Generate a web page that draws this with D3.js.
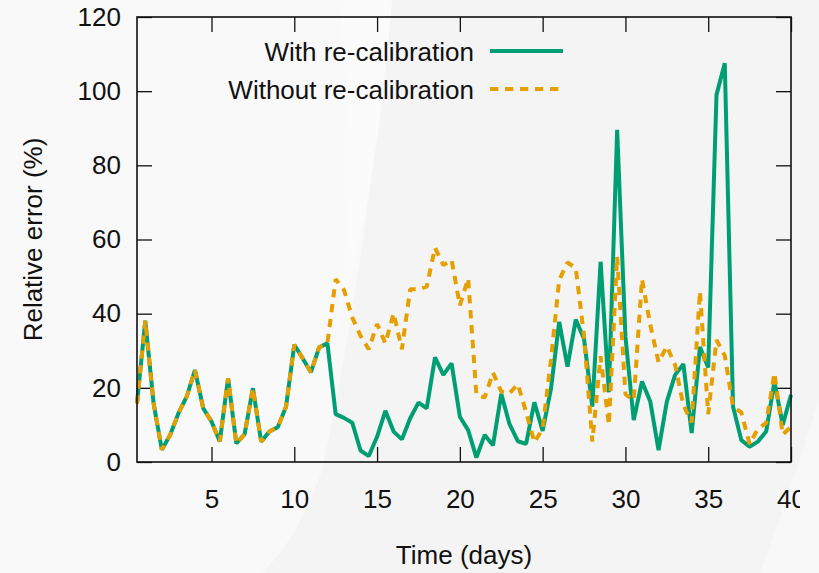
<!DOCTYPE html>
<html>
<head>
<meta charset="utf-8">
<script src="https://cdn.jsdelivr.net/npm/d3@7/dist/d3.min.js"></script>
<style>
  html, body { margin: 0; padding: 0; background: #f4f4f4; }
  svg { display: block; }
</style>
</head>
<body>
<svg id="chart" width="819" height="573"></svg>
<script>
// Sampling times (days) — one sample every half day
const days = [
  0.5, 1, 1.5, 2, 2.5, 3, 3.5, 4, 4.5, 5,
  5.5, 6, 6.5, 7, 7.5, 8, 8.5, 9, 9.5, 10,
  10.5, 11, 11.5, 12, 12.5, 13, 13.5, 14, 14.5, 15,
  15.5, 16, 16.5, 17, 17.5, 18, 18.5, 19, 19.5, 20,
  20.5, 21, 21.5, 22, 22.5, 23, 23.5, 24, 24.5, 25,
  25.5, 26, 26.5, 27, 27.5, 28, 28.5, 29, 29.5, 30,
  30.5, 31, 31.5, 32, 32.5, 33, 33.5, 34, 34.5, 35,
  35.5, 36, 36.5, 37, 37.5, 38, 38.5, 39, 39.5, 40
];

// Relative error (%) with periodic re-calibration
const withRecal = [
  15.8, 38.1, 15.9, 3.3, 7.3, 13.1, 17.6, 24.8, 14.5, 10.9,
  5.5, 22.6, 5.0, 7.5, 19.9, 5.5, 8.2, 9.4, 14.9, 31.6,
  28.0, 24.2, 30.9, 32.0, 12.9, 11.9, 10.6, 3.1, 1.6, 6.8,
  13.8, 8.2, 6.1, 11.8, 16.0, 14.5, 28.2, 23.5, 26.6, 12.2,
  8.6, 1.2, 7.3, 4.5, 18.4, 10.2, 5.6, 4.9, 16.1, 8.4,
  19.7, 37.8, 25.7, 38.4, 33.2, 14.9, 54.0, 18.8, 89.6, 33.8,
  11.3, 21.7, 16.3, 3.2, 16.3, 23.5, 26.4, 7.8, 31.0, 25.5,
  99.0, 107.5, 14.9, 5.9, 4.1, 5.5, 8.2, 21.7, 10.0, 18.1
];

// Relative error (%) without re-calibration
const withoutRecal = [
  15.8, 38.1, 15.9, 3.3, 7.3, 13.1, 17.6, 24.8, 14.5, 10.9,
  5.5, 22.6, 5.0, 7.5, 19.9, 5.5, 8.2, 9.4, 14.9, 31.6,
  28.0, 24.2, 30.9, 32.0, 49.3, 46.4, 39.0, 34.0, 30.4, 37.2,
  32.0, 40.1, 30.4, 46.6, 46.6, 47.3, 57.8, 53.1, 54.5, 42.2,
  49.5, 18.1, 17.4, 24.1, 19.0, 18.5, 21.0, 13.5, 5.3, 9.0,
  27.5, 49.1, 53.8, 52.3, 34.0, 5.5, 28.5, 10.0, 55.4, 18.3,
  16.7, 49.3, 37.0, 26.9, 31.2, 26.2, 15.3, 10.7, 46.0, 12.9,
  32.9, 28.7, 14.9, 13.4, 4.8, 9.0, 10.5, 24.0, 7.4, 9.5
];

const seriesNames = ["With re-calibration", "Without re-calibration"];
const xTicks = [5, 10, 15, 20, 25, 30, 35, 40];
const yTicks = [0, 20, 40, 60, 80, 100, 120];

const FONT = "'Liberation Sans', Arial, Helvetica, sans-serif";
const FS = "26px";
const GREEN = "#009e73", ORANGE = "#e69f00";

const svg = d3.select("#chart");
const W = 819, H = 573;

// Soft slide backdrop with a pale sweeping band
svg.append("rect").attr("width", W).attr("height", H).attr("fill", "#f4f4f4");
svg.append("path")
  .attr("d", "M0,0 L388,0 C378,160 352,330 322,470 C305,520 285,550 262,573 L0,573 Z")
  .attr("fill", "#f9f9f9");
svg.append("path")
  .attr("d", "M340,0 L392,0 C380,150 360,260 335,330 C352,240 350,120 340,0 Z")
  .attr("fill", "#fbfbfb");
svg.append("path")
  .attr("d", "M819,400 C800,460 780,520 760,573 L819,573 Z")
  .attr("fill", "#f8f8f8");

const m = { left: 137, right: 791, top: 17, bottom: 462 };

const x = d3.scaleLinear().domain([0.5, 40]).range([m.left, m.right]);
const y = d3.scaleLinear().domain([0, 120]).range([m.bottom, m.top]);

// Everything to the right of x=800 is cut off
svg.append("clipPath").attr("id", "figclip")
  .append("rect").attr("x", 0).attr("y", 0).attr("width", 800).attr("height", H);
const g = svg.append("g").attr("clip-path", "url(#figclip)");

function styleAxis(sel) {
  sel.select(".domain").remove();
  sel.selectAll(".tick line").attr("stroke", "#111").attr("stroke-width", 1.3);
  sel.selectAll(".tick text")
    .attr("fill", "#111")
    .style("font-family", FONT)
    .style("font-size", FS);
}

const TICK = 15;

g.append("g").attr("transform", `translate(${m.left},0)`)
  .call(d3.axisLeft(y).tickValues(yTicks).tickSize(-TICK).tickPadding(16))
  .call(styleAxis);

g.append("g").attr("transform", `translate(${m.right},0)`)
  .call(d3.axisRight(y).tickValues(yTicks).tickSize(-TICK).tickFormat(""))
  .call(styleAxis);

g.append("g").attr("transform", `translate(0,${m.bottom})`)
  .call(d3.axisBottom(x).tickValues(xTicks).tickSize(-TICK).tickPadding(28))
  .call(styleAxis);

g.append("g").attr("transform", `translate(0,${m.top})`)
  .call(d3.axisTop(x).tickValues(xTicks).tickSize(-TICK).tickFormat(""))
  .call(styleAxis);

// Data lines
const line = d3.line().x((d, i) => x(days[i])).y(d => y(d));

g.append("path").datum(withRecal)
  .attr("d", line)
  .attr("fill", "none")
  .attr("stroke", GREEN)
  .attr("stroke-width", 4)
  .attr("stroke-linejoin", "bevel");

g.append("path").datum(withoutRecal)
  .attr("d", line)
  .attr("fill", "none")
  .attr("stroke", ORANGE)
  .attr("stroke-width", 4)
  .attr("stroke-dasharray", "8.3,6.7")
  .attr("stroke-linejoin", "bevel");

// Plot frame
g.append("rect")
  .attr("x", m.left).attr("y", m.top)
  .attr("width", m.right - m.left).attr("height", m.bottom - m.top)
  .attr("fill", "none").attr("stroke", "#111").attr("stroke-width", 1.6);

// Legend
const legend = [
  { name: seriesNames[0], color: GREEN, dash: null, y: 51, base: 61 },
  { name: seriesNames[1], color: ORANGE, dash: "8.3,6.7", y: 89, base: 99 }
];
legend.forEach(L => {
  g.append("text")
    .attr("x", 474).attr("y", L.base)
    .attr("text-anchor", "end")
    .attr("fill", "#111")
    .style("font-family", FONT).style("font-size", FS)
    .text(L.name);
  g.append("line")
    .attr("x1", 490).attr("x2", 563).attr("y1", L.y).attr("y2", L.y)
    .attr("stroke", L.color).attr("stroke-width", 4)
    .attr("stroke-dasharray", L.dash);
});

// Axis titles
g.append("text")
  .attr("x", (m.left + m.right) / 2).attr("y", 564)
  .attr("text-anchor", "middle").attr("fill", "#111")
  .style("font-family", FONT).style("font-size", FS)
  .text("Time (days)");

g.append("text")
  .attr("transform", `translate(42,${(m.top + m.bottom) / 2}) rotate(-90)`)
  .attr("text-anchor", "middle").attr("fill", "#111")
  .style("font-family", FONT).style("font-size", FS)
  .text("Relative error (%)");
</script>
</body>
</html>
